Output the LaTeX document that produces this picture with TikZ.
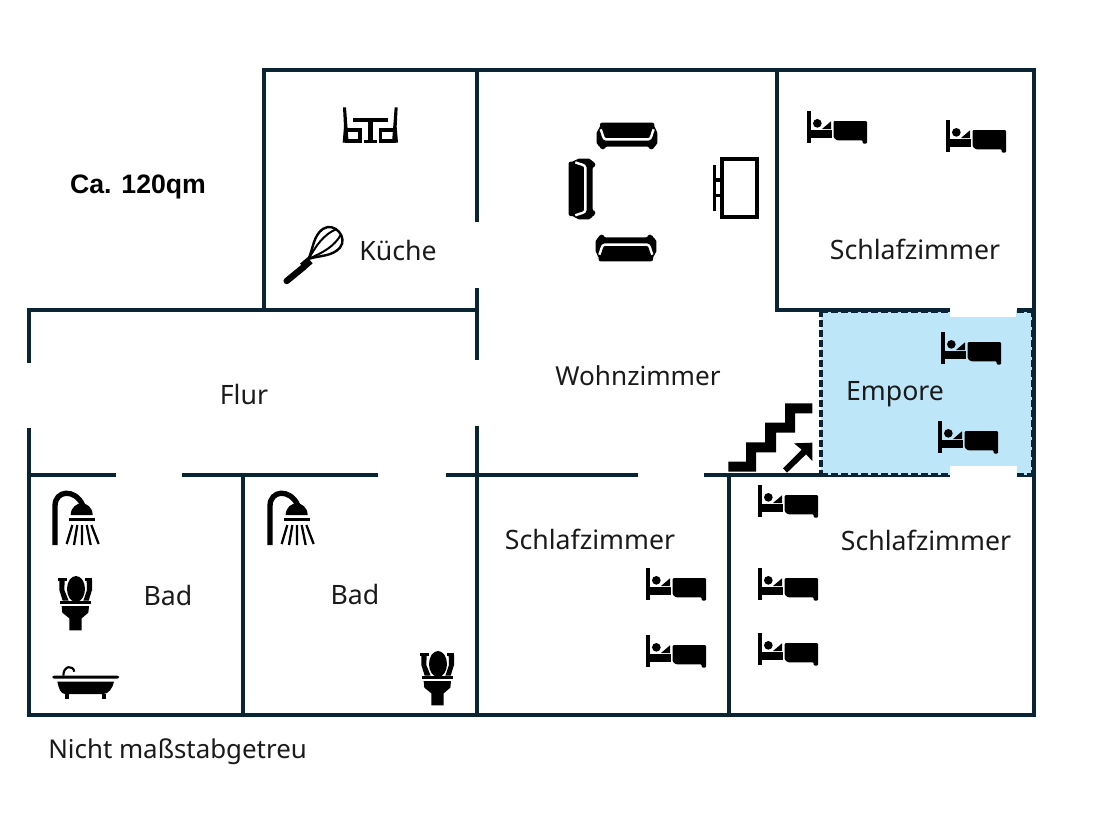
\documentclass[tikz,border=0pt]{standalone}
\usepackage{fontspec}
\setmainfont{Noto Sans}
\newfontfamily\boldarial{Liberation Sans}[Scale=1.0]
\definecolor{wall}{HTML}{0B2433}
\definecolor{loft}{HTML}{BDE7F8}
\definecolor{ink}{HTML}{1A1A1A}
\tikzset{
  wallline/.style={draw=wall,line width=2.8pt},
  dashline/.style={draw=wall,line width=3.5pt,dash pattern=on 5.5pt off 2pt},
  roomlabel/.style={text=ink,font=\fontsize{20pt}{22pt}\selectfont,inner sep=0pt},
  bed/.pic={\begin{scope}[scale=1/3,shift={(-22,-35)}]
    \fill[black] (22,35) rectangle (33,130);
    \fill[black] (33,93) rectangle (96,116);
    \fill[black] (53,72) circle (13);
    \fill[black] (67,89)--(94,66)--(94,89)--cycle;
    \fill[black,rounded corners=0.8pt] (102,65)--(202,65)--(202,133)--(189,133)--(189,123)--(112,123)--(102,115)--cycle;
  \end{scope}},
  sofa/.pic={\begin{scope}[scale=1/3,shift={(-231,-108)}]
    \fill[black,rounded corners=1.5pt] (150,68)--(313,68)--(313,85)--(322,92)--(322,135)--(310,140)--(310,148)--(298,148)--(298,140)--(165,140)--(165,148)--(153,148)--(153,140)--(140,135)--(140,92)--(150,85)--cycle;
    \draw[white,line width=1.8pt] (152,88) .. controls (158,100) and (158,118) .. (168,118) -- (295,118) .. controls (305,118) and (305,100) .. (311,88);
  \end{scope}},
  showerhead/.pic={\begin{scope}[scale=1/3]
    \draw[black,line width=4pt] (105,225)--(105,108) .. controls (105,60) and (165,55) .. (188,105);
    \fill[black] (152,135) .. controls (152,112) and (170,100) .. (185,100) .. controls (200,100) and (218,112) .. (218,135) -- cycle;
    \fill[black] (146,143) rectangle (226,153);
    \draw[black,line width=1.7pt] (157,165)--(140,222) (172,165)--(162,225) (186,165)--(186,225) (200,165)--(212,225) (214,165)--(236,222);
  \end{scope}},
  toilet/.pic={\begin{scope}[scale=1/3]
    \fill[black] (168,357) ellipse (27 and 39);
    \fill[black] (115,323) rectangle (140,332);
    \fill[black] (196,323) rectangle (217,332);
    \fill[black] (118,330)--(134,330)--(133,360)--(146,392)--(128,392)--(118,360)--cycle;
    \fill[black] (216,330)--(200,330)--(201,360)--(190,392)--(206,392)--(216,360)--cycle;
    \fill[black] (120,393) rectangle (213,402);
    \fill[black] (125,408)--(207,408)--(205,428)--(185,445)--(185,481)--(148,481)--(148,445)--(127,428)--cycle;
  \end{scope}}
}
\begin{document}
\begin{tikzpicture}[x=0.75pt,y=-0.75pt]
\useasboundingbox (0,0) rectangle (1106,814);
\fill[white] (0,0) rectangle (1106,814);
% Empore
\fill[loft] (821,310) rectangle (1033,475);
% walls
\draw[wallline,line cap=rect] (264,310)--(264,70)--(1034,70)--(1034,715)--(29,715)--(29,430);
\draw[wallline] (29,363)--(29,310)--(477,310);
\draw[wallline] (477,70)--(477,222) (477,288)--(477,360) (477,426)--(477,715);
\draw[wallline] (777,70)--(777,310)--(950,310) (1017,310)--(1034,310);
\draw[wallline] (29,475)--(116,475) (182,475)--(378,475) (446,475)--(638,475) (704,475)--(821,475);
\draw[wallline,line width=2pt] (821,476)--(950,476) (1017,476)--(1034,476);
\draw[wallline] (243,475)--(243,715) (729,475)--(729,715);
\draw[dashline] (821,310)--(821,475);
\draw[dashline] (821,311)--(950,311) (1017,311)--(1033,311);
\draw[dashline] (821,475)--(950,475) (1017,475)--(1033,475);
\draw[dashline] (1033,310)--(1033,475);
% openings of the Empore
\fill[white] (950,303) rectangle (1016,317);
\fill[white] (950,466) rectangle (1017,479);
% table and chairs
\begin{scope}[shift={(260,60)},scale=1/3]
  \fill[black] (280,175) rectangle (385,187);
  \fill[black] (325,187) rectangle (340,240);
  \fill[black] (313,240) rectangle (352,248);
  \foreach \m/\o in {1/0,-1/662}{
    \begin{scope}[shift={(\o,0)},xscale=\m]
      \fill[black] (249,142)--(258,142)--(266,248)--(248,248)--(252,200)--cycle;
      \fill[black] (255,204) rectangle (305,215);
      \fill[black] (255,236) rectangle (305,248);
      \fill[black] (295,204) rectangle (305,248);
    \end{scope}}
\end{scope}
% whisk
\begin{scope}[shift={(260,60)},scale=1/3]
  \draw[black,line width=4.8pt,line cap=round] (80,663)--(130,622);
  \draw[black,line width=6pt] (128,620)--(150,601);
  \begin{scope}[shift={(192,555)},rotate=42]
    \draw[black,line width=1.8pt] (-62,0) .. controls (-30,-15) and (-5,-42) .. (30,-38) .. controls (70,-32) and (70,32) .. (30,38) .. controls (-5,42) and (-30,15) .. (-62,0) -- cycle;
    \draw[black,line width=1.5pt] (-62,0) .. controls (-20,-14) and (20,-25) .. (61,-10);
    \draw[black,line width=1.5pt] (-62,0) .. controls (-20,14) and (20,25) .. (61,10);
  \end{scope}
\end{scope}
% sofas
\pic at (627,136) {sofa};
\pic[rotate=180] at (626,248) {sofa};
\pic[rotate=90] at (582,189) {sofa};
% tv
\begin{scope}[shift={(550,100)},scale=1/3]
  \draw[black,line width=3pt] (517,176) rectangle (622,352);
  \fill[black] (490,195) rectangle (498,332);
  \fill[black] (498,235) rectangle (511,245);
  \fill[black] (498,282) rectangle (511,292);
\end{scope}
% beds
\pic at (807,111) {bed};
\pic at (946,120) {bed};
\pic at (941,332) {bed};
\pic at (938,421) {bed};
\pic at (758,485) {bed};
\pic at (758,568) {bed};
\pic at (758,633) {bed};
\pic at (646,568) {bed};
\pic at (646,635) {bed};
% stairs and arrow
\begin{scope}[shift={(720,300)},scale=1/3]
  \fill[black] (25,485)--(78,485)--(78,427)--(135,427)--(135,368)--(195,368)--(195,310)--(277,310)--(277,340)--(225,340)--(225,398)--(168,398)--(168,457)--(108,457)--(108,515)--(25,515)--cycle;
  \fill[black] (222,430)--(277,428)--(277,483)--(258,463)--(201,518)--(189,505)--(245,449)--cycle;
\end{scope}
% bathrooms
\pic at (20,470) {showerhead};
\pic at (235,470) {showerhead};
\pic at (20,470) {toilet};
\pic at (382,545) {toilet};
\begin{scope}[shift={(20,470)},scale=1/3]
  \fill[black,rounded corners=1.5pt] (97,617) rectangle (297,626);
  \fill[black] (112,635)--(282,635) .. controls (278,655) and (265,672) .. (250,672)--(135,672) .. controls (122,672) and (116,655) .. (112,635)--cycle;
  \fill[black] (135,672) rectangle (147,686);
  \fill[black] (247,672) rectangle (259,686);
  \draw[black,line width=1.6pt] (130,617) .. controls (130,585) and (160,585) .. (163,605);
\end{scope}
% labels
\node[inner sep=0pt,font={\fontsize{20pt}{22pt}\selectfont\bfseries\boldarial}] (area) at (138,187) {Ca. 120qm};
\node[roomlabel] (kueche) at (398,250) {Küche};
\node[roomlabel] (schlafa) at (915,249) {Schlafzimmer};
\node[roomlabel] (flur) at (244,394) {Flur};
\node[roomlabel,font=\fontsize{19.6pt}{22pt}\selectfont] (wohn) at (638,376) {Wohnzimmer};
\node[roomlabel] (empore) at (895,394) {Empore};
\node[roomlabel] (schlafb) at (590,539) {Schlafzimmer};
\node[roomlabel] (schlafc) at (926,540) {Schlafzimmer};
\node[roomlabel] (bada) at (168,595) {Bad};
\node[roomlabel] (badb) at (355,594) {Bad};
\node[roomlabel,anchor=west,font=\fontsize{19.4pt}{22pt}\selectfont] (note) at (48,752) {Nicht maßstabgetreu};
\end{tikzpicture}
\end{document}
